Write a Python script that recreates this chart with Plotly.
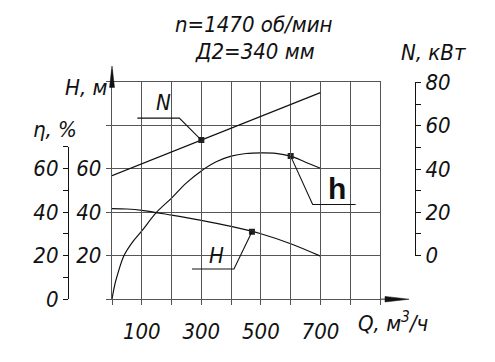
import plotly.graph_objects as go

W, H_PX = 495, 362

# ---- data ----
q_eta = [0, 10, 20, 40, 70, 100, 150, 200, 250, 300, 350, 400, 450, 500, 550, 600, 650, 700]
eta = [0, 7, 12, 20, 26.5, 31.4, 40, 46.5, 53.5, 59, 63.2, 65.8, 67.0, 67.3, 67.1, 65.8, 63.0, 60.2]

q_head = [0, 50, 100, 200, 300, 400, 500, 600, 700]
head = [41.7, 41.5, 40.9, 38.7, 36.3, 33.5, 30.1, 25.5, 19.8]

q_power = [0, 300, 700]
power = [36.9, 53.4, 75.3]

# marked points on the curves
mark_n_q, mark_n_val = 300, 53.4
mark_h_q, mark_h_val = 470, 31.0
mark_eta_q, mark_eta_val = 600, 65.8

q_ticks = [0, 100, 200, 300, 400, 500, 600, 700, 800, 900]
q_labels = ["", "100", "", "300", "", "500", "", "700", "", ""]
h_ticks = [0, 20, 40, 60, 80, 100]
h_labels = ["", "20", "40", "60", "", ""]
eta_ticks = [0, 10, 20, 30, 40, 50, 60, 70]
eta_labels = ["0", "", "20", "", "40", "", "60", ""]
n_ticks = [0, 10, 20, 30, 40, 50, 60, 70, 80]
n_labels = ["0", "", "20", "", "40", "", "60", "", "80"]


def px(x):
    return x / W


def py(y):
    return 1 - y / H_PX


X_DOM = [px(112), px(380)]
X_RANGE = [0, 900]
Y_DOM = [py(308.5), py(75)]
Y_RANGE = [0, 100]
Y2_DOM = [py(308.5), py(145)]
Y2_RANGE = [0, 70]
Y3_DOM = [py(261.7), py(75.7)]
Y3_RANGE = [0, 80]


def to_paper(v, dom, rng):
    return dom[0] + (v - rng[0]) / (rng[1] - rng[0]) * (dom[1] - dom[0])


FONT = "Liberation Sans Narrow, DejaVu Sans Condensed, Liberation Sans, sans-serif"
GRID = "#555555"
INK = "#111111"

fig = go.Figure()

fig.add_trace(go.Scatter(x=q_eta, y=eta, mode="lines", line=dict(color=INK, width=1.2, shape="spline"),
                         xaxis="x", yaxis="y2", showlegend=False, hoverinfo="skip"))
fig.add_trace(go.Scatter(x=q_head, y=head, mode="lines", line=dict(color=INK, width=1.2, shape="spline"),
                         xaxis="x", yaxis="y", showlegend=False, hoverinfo="skip"))
fig.add_trace(go.Scatter(x=q_power, y=power, mode="lines", line=dict(color=INK, width=1.2),
                         xaxis="x", yaxis="y3", showlegend=False, hoverinfo="skip"))

mk = dict(symbol="square", size=6, color="#222222")
fig.add_trace(go.Scatter(x=[mark_n_q], y=[mark_n_val], mode="markers", marker=mk,
                         xaxis="x", yaxis="y3", showlegend=False, hoverinfo="skip"))
fig.add_trace(go.Scatter(x=[mark_h_q], y=[mark_h_val], mode="markers", marker=mk,
                         xaxis="x", yaxis="y", showlegend=False, hoverinfo="skip"))
fig.add_trace(go.Scatter(x=[mark_eta_q], y=[mark_eta_val], mode="markers", marker=mk,
                         xaxis="x", yaxis="y2", showlegend=False, hoverinfo="skip"))

tickfont = dict(family=FONT, size=22, color=INK, style="italic")

fig.update_layout(
    width=W, height=H_PX,
    margin=dict(l=0, r=0, t=0, b=0),
    paper_bgcolor="white", plot_bgcolor="rgba(0,0,0,0)",
    font=dict(family=FONT, size=22, color=INK, style="italic"),
    xaxis=dict(domain=X_DOM, range=X_RANGE, tickvals=q_ticks, ticktext=q_labels,
               ticks="outside", ticklen=5, tickcolor=GRID, tickwidth=1.3,
               showgrid=True, gridcolor=GRID, gridwidth=1.3,
               showline=True, linecolor=GRID, linewidth=1.3, mirror=True,
               zeroline=False, tickfont=tickfont, anchor="y", ticklabelstandoff=7),
    yaxis=dict(domain=Y_DOM, range=Y_RANGE, tickvals=h_ticks, ticktext=h_labels,
               ticks="outside", ticklen=5, tickcolor=GRID, tickwidth=1.3,
               showgrid=True, gridcolor=GRID, gridwidth=1.3,
               showline=True, linecolor=GRID, linewidth=1.3, mirror=True,
               zeroline=False, tickfont=tickfont, anchor="x", ticklabelstandoff=0),
    yaxis2=dict(domain=Y2_DOM, range=Y2_RANGE, tickvals=eta_ticks, ticktext=eta_labels,
                ticks="outside", ticklen=5, tickcolor=INK, tickwidth=1.1,
                showgrid=False, showline=True, linecolor=INK, linewidth=1.1,
                zeroline=False, tickfont=tickfont, anchor="free", position=px(68), side="left",
                ticklabelstandoff=0),
    yaxis3=dict(domain=Y3_DOM, range=Y3_RANGE, tickvals=n_ticks, ticktext=n_labels,
                ticks="outside", ticklen=5, tickcolor=INK, tickwidth=1.1,
                showgrid=False, showline=True, linecolor=INK, linewidth=1.1,
                zeroline=False, tickfont=tickfont, anchor="free", position=px(415), side="right",
                ticklabelstandoff=0),
)

# axis arrows
fig.add_shape(type="line", xref="paper", yref="paper", x0=px(380), y0=py(308.5), x1=px(400), y1=py(308.5),
              line=dict(color=GRID, width=1.3))
fig.add_shape(type="path", xref="paper", yref="paper",
              path=f"M {px(385)} {py(305.5)} L {px(409)} {py(308.5)} L {px(385)} {py(311.5)} Z",
              fillcolor=INK, line=dict(color=INK, width=0.5))
fig.add_shape(type="line", xref="paper", yref="paper", x0=px(112), y0=py(75), x1=px(112), y1=py(62),
              line=dict(color=GRID, width=1.3))
fig.add_shape(type="path", xref="paper", yref="paper",
              path=f"M {px(109.5)} {py(81)} L {px(112)} {py(58)} L {px(114.5)} {py(81)} Z",
              fillcolor=INK, line=dict(color=INK, width=0.5))


# callout leaders: from marked point to an elbow, then a horizontal shelf
def leader(xq, yv, ydom, yrng, dx, dy, shelf_to):
    x0 = to_paper(xq, X_DOM, X_RANGE)
    y0 = to_paper(yv, ydom, yrng)
    x1 = x0 + dx / W
    y1 = y0 - dy / H_PX
    fig.add_shape(type="path", xref="paper", yref="paper",
                  path=f"M {x0} {y0} L {x1} {y1} L {x1 + shelf_to / W} {y1}",
                  line=dict(color=INK, width=1.1))


leader(mark_n_q, mark_n_val, Y3_DOM, Y3_RANGE, -22, -23.5, -42)
leader(mark_eta_q, mark_eta_val, Y2_DOM, Y2_RANGE, 22, 52, 43)
leader(mark_h_q, mark_h_val, Y_DOM, Y_RANGE, -18, 40, -42)


def label(text, x, y, size=22, family=FONT, style="italic", weight="normal", xanchor="center"):
    fig.add_annotation(x=px(x), y=py(y), xref="paper", yref="paper", text=text, showarrow=False,
                       xanchor=xanchor, yanchor="middle",
                       font=dict(family=family, size=size, color=INK, style=style, weight=weight))


label("n=1470 об/мин", 254, 13)
label("Д2=340 мм", 255, 42)
label("H, м", 86, 81)
label("η, %", 55, 126)
label("N, кВт", 434, 44)
label("Q, м<sup>3</sup>/ч", 393, 333)
label("N", 163, 97)
label("H", 216, 262)
label("h", 337, 190, size=30, family="Liberation Sans, Arial, sans-serif", style="normal", weight="bold")

fig.write_html("out.html", config={"displayModeBar": False},
               post_script="document.body.style.margin='0';document.body.style.padding='0';")
